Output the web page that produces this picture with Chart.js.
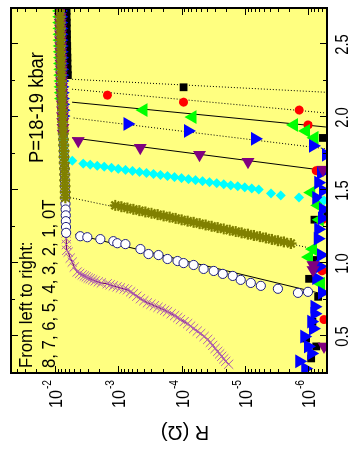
<!DOCTYPE html>
<html>
<head>
<meta charset="utf-8">
<script src="https://cdn.jsdelivr.net/npm/chart.js@4.4.1/dist/chart.umd.min.js"></script>
<style>
html, body { margin: 0; padding: 0; background: #fff; overflow: hidden; }
/* the figure is drawn upright (454 x 354) and turned a quarter turn */
#wrap { position: absolute; left: -50px; top: 50px; width: 454px; height: 354px; transform: rotate(-90deg); }
</style>
</head>
<body>
<div id="wrap"><canvas id="myChart"></canvas></div>
<script>
const xTicks = [0.5, 1.0, 1.5, 2.0, 2.5];
const xMinorTicks = [0.75, 1.25, 1.75, 2.25];
const rTickExp = [-2, -3, -4, -5, -6];
const fields = ['8T', '7T', '6T', '5T', '4T', '3T', '2T', '1T', '0T'];

// normal state, all fields sit on top of each other here
const normalT = [2.73, 2.69, 2.65, 2.61, 2.57, 2.53, 2.49, 2.45, 2.41, 2.37, 2.33, 2.29, 2.25, 2.21,
  2.17, 2.13, 2.09, 2.05, 2.01, 1.97, 1.93, 1.89, 1.85, 1.81, 1.77, 1.73, 1.69, 1.65, 1.61, 1.57,
  1.53, 1.49, 1.45, 1.41, 1.37, 1.33, 1.29, 1.25, 1.21, 1.17, 1.13, 1.09];
const normalR = [8.35e-3, 8.33e-3, 8.30e-3, 8.27e-3, 8.24e-3, 8.21e-3, 8.18e-3, 8.15e-3, 8.12e-3,
  8.08e-3, 8.04e-3, 8.00e-3, 7.96e-3, 7.91e-3, 7.86e-3, 7.80e-3, 7.74e-3, 7.69e-3, 7.64e-3,
  7.58e-3, 7.52e-3, 7.46e-3, 7.40e-3, 7.34e-3, 7.28e-3, 7.22e-3, 7.17e-3, 7.12e-3, 7.07e-3,
  7.03e-3, 6.99e-3, 6.95e-3, 6.91e-3, 6.87e-3, 6.83e-3, 6.80e-3, 6.77e-3, 6.74e-3, 6.71e-3,
  6.68e-3, 6.64e-3, 6.58e-3];
// lowest T still taken from the normal-state list (8T has its own)
const onsetT = [null, 2.21, 2.12, 2.01, 1.87, 1.71, 1.45, 1.20, 1.09];

const t8 = [2.73, 2.69, 2.65, 2.61, 2.57, 2.53, 2.49, 2.45, 2.41, 2.37, 2.33, 2.29,
  2.207, 1.86, 1.33, 1.30, 1.024, 0.895, 0.772, 0.60, 0.486, 0.432, 0.35];
const r8 = [6.6e-3, 6.6e-3, 6.55e-3, 6.55e-3, 6.5e-3, 6.5e-3, 6.45e-3, 6.45e-3, 6.4e-3, 6.4e-3, 6.35e-3, 6.3e-3,
  9.3e-5, 5.8e-7, 5.8e-7, 7.9e-7, 8.3e-7, 9.6e-7, 6.9e-7, 8.5e-7, 1.07e-6, 7.4e-7, 8.9e-7];

const t7 = [2.153, 2.105, 2.051, 1.949, 1.636, 1.303, 0.95, 0.616];
const r7 = [1.49e-3, 9.3e-5, 1.38e-6, 1.0e-6, 7.4e-7, 5.8e-7, 6.0e-7, 5.6e-7];

const t6 = [2.051, 2.003, 1.949, 1.908, 1.861, 1.486, 1.398, 1.30, 1.099, 1.044, 0.861];
const r6 = [4.0e-4, 6.7e-5, 1.66e-6, 1.07e-6, 7.9e-7, 8.9e-7, 6.9e-7, 6.5e-7, 8.3e-7, 9.6e-7, 6.2e-7];

const t5 = [1.956, 1.908, 1.854, 1.806, 1.745, 1.62, 1.554, 1.50, 1.45, 1.371, 1.31, 1.235, 1.17,
  1.058, 0.98, 0.90, 0.80, 0.704, 0.656, 0.602, 0.554, 0.50, 0.432, 0.384, 0.33, 0.28];
const r5 = [7.2e-4, 7.9e-5, 6.9e-6, 8.3e-7, 5.2e-7, 6.2e-7, 6.9e-7, 5.8e-7, 7.4e-7, 5.8e-7, 6.0e-7, 6.9e-7, 7.0e-7,
  6.2e-7, 6.5e-7, 7.4e-7, 6.0e-7, 7.9e-7, 7.9e-7, 8.9e-7, 8.3e-7, 1.15e-6, 1.0e-6, 8.9e-7, 1.38e-6, 1.1e-6];

const t4 = [1.840, 1.793, 1.745, 1.697, 1.643, 0.99, 0.956, 0.432];
const r4 = [4.3e-3, 4.5e-4, 5.2e-5, 8.9e-6, 5.8e-7, 8.3e-7, 8.3e-7, 5.6e-7];

const t3 = [1.704, 1.684, 1.677, 1.669, 1.663, 1.656, 1.648, 1.641, 1.634, 1.627, 1.620, 1.613,
  1.606, 1.599, 1.592, 1.585, 1.578, 1.571, 1.564, 1.557, 1.550, 1.543, 1.535, 1.529, 1.522,
  1.514, 1.507, 1.480, 1.466, 1.452, 1.432];
const r3 = [5.37e-3, 3.60e-3, 2.78e-3, 2.15e-3, 1.67e-3, 1.29e-3, 1.00e-3, 7.74e-4, 6.00e-4, 4.65e-4,
  3.60e-4, 2.78e-4, 2.15e-4, 1.67e-4, 1.29e-4, 1.00e-4, 7.74e-5, 6.00e-5, 4.65e-5, 3.60e-5,
  2.78e-5, 2.15e-5, 1.67e-5, 1.29e-5, 1.0e-5, 7.74e-6, 6.0e-6, 3.86e-6, 2.69e-6, 1.39e-6, 5.6e-7];

const t2 = [1.398, 1.389, 1.380, 1.371, 1.362, 1.353, 1.344, 1.335, 1.326, 1.318, 1.309, 1.299,
  1.290, 1.282, 1.273, 1.264, 1.255, 1.246, 1.237, 1.228, 1.219, 1.210, 1.201, 1.192, 1.184,
  1.175, 1.165, 1.156, 1.148, 1.137];
const r2 = [1.12e-3, 8.96e-4, 7.19e-4, 5.78e-4, 4.65e-4, 3.73e-4, 2.99e-4, 2.40e-4, 1.93e-4, 1.55e-4,
  1.24e-4, 1.0e-4, 8.03e-5, 6.45e-5, 5.18e-5, 4.16e-5, 3.34e-5, 2.68e-5, 2.15e-5, 1.73e-5,
  1.39e-5, 1.12e-5, 8.96e-6, 7.19e-6, 5.78e-6, 4.65e-6, 3.73e-6, 2.99e-6, 2.40e-6, 1.86e-6];

const t1 = [1.187, 1.180, 1.167, 1.153, 1.139, 1.133, 1.099, 1.065, 1.058, 1.031, 1.017, 1.003,
  0.990, 0.963, 0.949, 0.929, 0.915, 0.888, 0.867, 0.847, 0.827, 0.799, 0.806];
const r1 = [4.01e-3, 3.10e-3, 1.93e-3, 1.20e-3, 1.04e-3, 7.74e-4, 4.48e-4, 3.34e-4, 2.32e-4, 1.67e-4,
  1.16e-4, 9.29e-5, 6.45e-5, 4.48e-5, 3.10e-5, 2.23e-5, 1.55e-5, 1.16e-5, 8.03e-6, 5.57e-6,
  2.99e-6, 1.44e-6, 1.0e-6];

const t0 = [1.078, 1.037, 1.010, 0.976, 0.942, 0.932, 0.922, 0.915, 0.908, 0.900, 0.895, 0.888,
  0.881, 0.874, 0.867, 0.861, 0.854, 0.847, 0.840, 0.833, 0.826, 0.820, 0.806, 0.793, 0.776,
  0.759, 0.745, 0.731, 0.721, 0.711, 0.700, 0.690, 0.680, 0.670, 0.656, 0.643, 0.630, 0.616,
  0.602, 0.588, 0.571, 0.554, 0.537, 0.520, 0.500, 0.480, 0.460, 0.439, 0.418, 0.398, 0.381,
  0.364, 0.347, 0.330, 0.310];
const r0 = [6.22e-3, 5.78e-3, 5.37e-3, 4.99e-3, 4.48e-3, 4.10e-3, 3.73e-3, 3.45e-3, 3.22e-3, 3.00e-3,
  2.78e-3, 2.55e-3, 2.32e-3, 2.08e-3, 1.86e-3, 1.50e-3, 1.35e-3, 1.20e-3, 1.05e-3, 9.29e-4,
  8.10e-4, 7.19e-4, 6.40e-4, 5.78e-4, 5.10e-4, 4.48e-4, 3.95e-4, 3.47e-4, 3.05e-4, 2.69e-4,
  2.36e-4, 2.08e-4, 1.85e-4, 1.67e-4, 1.46e-4, 1.29e-4, 1.15e-4, 1.04e-4, 9.10e-5, 8.03e-5,
  7.20e-5, 6.45e-5, 5.65e-5, 4.99e-5, 4.40e-5, 3.86e-5, 3.50e-5, 3.22e-5, 2.95e-5, 2.68e-5,
  2.50e-5, 2.32e-5, 2.15e-5, 2.00e-5, 1.80e-5];

// straight fits through the transitions (start and end points)
const fitField = ['8T', '7T', '6T', '5T', '4T', '2T', '1T'];
const fitT0 = [2.262, 2.194, 2.105, 1.997, 1.861, 1.452, 1.200];
const fitR0 = [5.4e-3, 5.4e-3, 5.4e-3, 5.1e-3, 5.4e-3, 5.8e-3, 4.8e-3];
const fitT1 = [2.173, 2.031, 1.935, 1.786, 1.636, 1.105, 0.786];
const fitR1 = [5.2e-7, 5.2e-7, 5.2e-7, 5.2e-7, 5.2e-7, 9.0e-7, 5.2e-7];

const seriesT = [t8, t7, t6, t5, t4, t3, t2, t1, t0];
const seriesR = [r8, r7, r6, r5, r4, r3, r2, r1, r0];

// looks
const pStyle = ['rect', 'circle', 'triangle', 'triangle', 'triangle', 'rectRot', 'star', 'circle', 'crossRot'];
const pRot = [0, 0, 0, 180, 270, 0, 0, 0, 0];
const pFill = ['#000000', '#ff0000', '#00ff00', '#0000ff', '#800080', '#00ffff', '#808000', '#ffffff', '#b060b0'];
const pEdge = ['#000000', '#ff0000', '#00ff00', '#0000ff', '#800080', '#00ffff', '#808000', '#202080', '#b060b0'];
const pSize = [5.5, 4.5, 8, 8, 7.5, 5, 5.5, 4.6, 6.5];
const pEdgeW = [0, 0, 0, 0, 0, 0, 2.2, 1, 1];
// drawing layer, lower sits on top
const pOrder = [7, 6, 5, 4, 1, 2, 0, 3, 8];
const fitDash = [[1, 2], [1, 2], [], [1, 2], [], [1, 2], []];
const FONT = '"Liberation Sans", Arial, sans-serif';

function seriesPoints(i) {
    const pts = [];
    if (onsetT[i] !== null) {
        normalT.forEach((t, k) => { if (t >= onsetT[i]) pts.push({ x: t, y: normalR[k] }); });
    }
    seriesT[i].forEach((t, k) => pts.push({ x: t, y: seriesR[i][k] }));
    return pts;
}

function makeDatasets() {
    const sets = [];
    fitField.forEach((f, i) => {
        sets.push({
            label: 'fit ' + f,
            data: [{ x: fitT0[i], y: fitR0[i] }, { x: fitT1[i], y: fitR1[i] }],
            showLine: true,
            borderColor: '#000',
            borderWidth: 1,
            borderDash: fitDash[i],
            pointRadius: 0,
            order: 20,
            clip: 0
        });
    });
    fields.forEach((f, i) => {
        sets.push({
            label: f,
            data: seriesPoints(i),
            showLine: f === '0T',
            borderColor: '#700070',
            borderWidth: 1.2,
            pointStyle: pStyle[i],
            rotation: pRot[i],
            pointRadius: pSize[i],
            pointBackgroundColor: pFill[i],
            pointBorderColor: pEdge[i],
            pointBorderWidth: pEdgeW[i],
            order: pOrder[i],
            clip: 0
        });
    });
    return sets;
}

function txt(ctx, s, x, y, size, align, sx) {
    ctx.save();
    ctx.translate(x, y);
    ctx.scale(sx, 1);
    ctx.font = size + 'px ' + FONT;
    ctx.textAlign = align;
    ctx.textBaseline = 'alphabetic';
    ctx.fillStyle = '#000';
    ctx.fillText(s, 0, 0);
    ctx.restore();
}

function line(ctx, x1, y1, x2, y2) {
    ctx.beginPath();
    ctx.moveTo(x1, y1);
    ctx.lineTo(x2, y2);
    ctx.stroke();
}

const framePlugin = {
    id: 'frame',
    beforeDatasetsDraw(chart) {
        const { ctx, chartArea: a } = chart;
        ctx.save();
        ctx.fillStyle = '#ffff80';
        ctx.fillRect(a.left, a.top, a.right - a.left, a.bottom - a.top);
        ctx.restore();
    },
    afterDatasetsDraw(chart) {
        const { ctx, chartArea: a } = chart;
        const xs = chart.scales.x, ys = chart.scales.y;
        ctx.save();
        ctx.strokeStyle = '#000';
        ctx.lineWidth = 1;
        xTicks.forEach(v => {
            const px = Math.round(xs.getPixelForValue(v)) + 0.5;
            line(ctx, px, a.bottom, px, a.bottom - 7);
            line(ctx, px, a.top, px, a.top + 7);
        });
        xMinorTicks.forEach(v => {
            const px = Math.round(xs.getPixelForValue(v)) + 0.5;
            line(ctx, px, a.bottom, px, a.bottom - 4);
            line(ctx, px, a.top, px, a.top + 4);
        });
        for (let e = -7; e <= -2; e++) {
            for (let m = 1; m <= 9; m++) {
                const v = m * Math.pow(10, e);
                if (v < ys.min || v > ys.max) continue;
                const py = Math.round(ys.getPixelForValue(v)) + 0.5;
                const len = m === 1 ? 7 : 4;
                line(ctx, a.left, py, a.left + len, py);
                line(ctx, a.right, py, a.right - len, py);
            }
        }
        ctx.lineWidth = 2;
        ctx.strokeRect(a.left, a.top, a.right - a.left, a.bottom - a.top);
        ctx.restore();
    },
    afterDraw(chart) {
        const { ctx, chartArea: a } = chart;
        const xs = chart.scales.x, ys = chart.scales.y;
        xTicks.forEach(v => txt(ctx, v.toFixed(1), xs.getPixelForValue(v), a.bottom + 21, 18, 'center', 0.82));
        rTickExp.forEach(e => {
            const py = ys.getPixelForValue(Math.pow(10, e));
            const right = a.left - 7;
            ctx.font = '12px ' + FONT;
            const sup = String(e);
            const supW = ctx.measureText(sup).width * 0.85;
            txt(ctx, sup, right - supW, py - 4, 12, 'left', 0.85);
            txt(ctx, '10', right - supW - 1, py + 7, 19, 'right', 0.85);
        });
        ctx.save();
        ctx.translate(22, 185);
        ctx.rotate(-Math.PI / 2);
        ctx.font = '20px ' + FONT;
        ctx.textAlign = 'center';
        ctx.textBaseline = 'middle';
        ctx.fillStyle = '#000';
        ctx.fillText('R (\u03A9)', 0, 0);
        ctx.restore();
        txt(ctx, 'From left to right:', 86, 32, 18, 'left', 0.93);
        txt(ctx, '8, 7, 6, 5, 4, 3, 2, 1, 0T', 86, 55, 18, 'left', 0.93);
        txt(ctx, 'P=18-19 kbar', 291, 43, 20, 'left', 0.92);
    }
};

function makeChart() {
    const ctx = document.getElementById('myChart');
    new Chart(ctx, {
        type: 'scatter',
        data: { datasets: makeDatasets() },
        options: {
            responsive: true,
            maintainAspectRatio: false,
            animation: false,
            devicePixelRatio: 1,
            layout: { padding: { left: 0, right: 4, top: 11, bottom: 0 } },
            plugins: { legend: { display: false }, tooltip: { enabled: false } },
            scales: {
                x: {
                    type: 'linear', min: 0.25, max: 2.75,
                    ticks: { display: false }, grid: { display: false }, border: { display: false },
                    afterFit(s) { s.height = 27; }
                },
                y: {
                    type: 'logarithmic', min: 5e-7, max: 5e-2,
                    ticks: { display: false }, grid: { display: false }, border: { display: false },
                    afterFit(s) { s.width = 81; }
                }
            }
        },
        plugins: [framePlugin]
    });
}

makeChart();
</script>
</body>
</html>
